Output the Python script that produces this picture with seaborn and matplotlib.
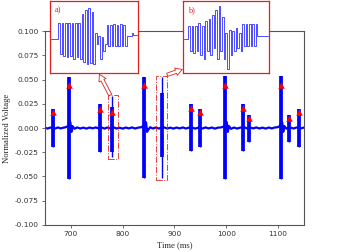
import numpy as np
import pandas as pd
import matplotlib
matplotlib.use("Agg")
import matplotlib.pyplot as plt
from matplotlib.patches import Rectangle
import seaborn as sns

sns.set_style("ticks")
plt.rcParams["font.family"] = ["DejaVu Sans"]
plt.rcParams["axes.unicode_minus"] = True

SERIF = ["Liberation Serif", "DejaVu Serif"]
BLUE = "#0000ff"
RED = "#e02020"
SPINE = "#555555"

# spikes (ms)
spike_t = [666, 696, 757, 779, 842, 876, 931, 950, 998, 1033, 1043, 1105, 1121, 1140]
spike_top = [0.020, 0.053, 0.025, 0.033, 0.053, 0.053, 0.025, 0.020, 0.054, 0.025, 0.013, 0.054, 0.013, 0.020]
spike_bot = [-0.020, -0.053, -0.025, -0.030, -0.052, -0.052, -0.024, -0.020, -0.053, -0.024, -0.014, -0.053, -0.014, -0.020]
core_top = [0.020, 0.053, 0.025, 0.022, 0.053, 0.036, 0.025, 0.020, 0.054, 0.025, 0.013, 0.054, 0.013, 0.020]
core_bot = [-0.020, -0.053, -0.025, -0.025, -0.052, -0.030, -0.024, -0.020, -0.053, -0.024, -0.014, -0.053, -0.014, -0.020]

# detected peaks (red triangles)
peak_t = [666, 696, 757, 779, 842, 931, 950, 998, 1033, 1043, 1105, 1121, 1140]
peak_v = [0.0168, 0.0445, 0.020, 0.0168, 0.0445, 0.021, 0.0168, 0.0445, 0.021, 0.0105, 0.0445, 0.0105, 0.0168]

# baseline between bursts
base_t = [650, 655, 660, 664, 670, 675, 680, 685, 690, 693, 699, 701, 703, 707, 712, 718, 724,
          730, 736, 742, 748, 754, 760, 765, 770, 776, 783, 788, 794, 800, 806, 812, 818, 824,
          830, 836, 839, 845, 847, 849, 853, 858, 864, 870, 874, 880, 886, 892, 898, 904, 910,
          916, 922, 928, 934, 940, 946, 954, 960, 966, 972, 978, 984, 990, 995, 1001, 1003,
          1005, 1009, 1015, 1021, 1027, 1036, 1040, 1046, 1052, 1058, 1064, 1070, 1076, 1082,
          1088, 1094, 1099, 1102, 1108, 1110, 1112, 1116, 1124, 1130, 1136, 1144, 1150]
base_v = [0.0004, -0.0006, 0.0005, 0.0, -0.0005, 0.0006, -0.0004, 0.0003, 0.0008, 0.0015,
          0.006, -0.004, 0.002, -0.0008, 0.0006, -0.0005, 0.0004, -0.0006, 0.0005, -0.0003,
          0.0006, -0.0005, 0.0004, -0.0006, 0.0005, -0.0004, 0.0006, -0.0005, 0.0003, -0.0006,
          0.0005, -0.0004, 0.0006, -0.0005, 0.0004, 0.0008, 0.0018, 0.006, -0.004, -0.002,
          0.0008, -0.0005, 0.0005, -0.0006, 0.0004, 0.0006, -0.0005, 0.0004, -0.0006, 0.0005,
          -0.0004, 0.0006, -0.0005, 0.0004, 0.0005, -0.0006, 0.0004, -0.0005, 0.0006, -0.0004,
          0.0005, -0.0006, 0.0004, 0.0006, 0.0015, 0.006, -0.004, 0.002, -0.0008, 0.0005,
          -0.0006, 0.0004, 0.0006, -0.0005, 0.0005, -0.0004, 0.0006, -0.0005, 0.0004, -0.0006,
          0.0005, -0.0004, 0.0006, 0.0008, 0.0015, 0.006, -0.004, 0.002, -0.0006, 0.0004,
          -0.0005, 0.0006, -0.0004, 0.0005]

# zoomed windows (dash-dot boxes)
box_t0 = [771, 864]
box_t1 = [791, 885]
box_v0 = [-0.032, -0.054]
box_v1 = [0.034, 0.054]

# inset waveforms (relative level, 0 = bottom of inset, 1 = top)
inset_a = [0.47, 0.47, 0.47, 0.47, 0.47, 0.69, 0.26, 0.69, 0.24, 0.69, 0.22, 0.69, 0.24, 0.69,
           0.20, 0.69, 0.22, 0.70, 0.20, 0.82, 0.15, 0.88, 0.12, 0.90, 0.14, 0.85, 0.12, 0.55,
           0.40, 0.52, 0.20, 0.50, 0.30, 0.40, 0.67, 0.38, 0.67, 0.38, 0.68, 0.38, 0.67, 0.38,
           0.68, 0.38, 0.67, 0.38, 0.52, 0.52, 0.52, 0.55, 0.53, 0.53, 0.53]
inset_b = [0.47, 0.47, 0.47, 0.66, 0.30, 0.66, 0.28, 0.66, 0.30, 0.70, 0.25, 0.66, 0.20, 0.72,
           0.30, 0.75, 0.25, 0.80, 0.35, 0.88, 0.20, 0.93, 0.30, 0.78, 0.20, 0.55, 0.06, 0.60,
           0.25, 0.58, 0.30, 0.62, 0.35, 0.55, 0.30, 0.68, 0.38, 0.68, 0.38, 0.68, 0.38, 0.68,
           0.38, 0.68, 0.52, 0.52, 0.52, 0.52, 0.52, 0.52, 0.52]

x_ticks = [700, 800, 900, 1000, 1100]
y_ticks = [-0.100, -0.075, -0.050, -0.025, 0.000, 0.025, 0.050, 0.075, 0.100]

fig = plt.figure(figsize=(3.37, 2.52), dpi=100)
ax = fig.add_axes([0.1335, 0.108, 0.7685, 0.768])

base_df = pd.DataFrame({"t": base_t, "v": base_v})
sns.lineplot(data=base_df, x="t", y="v", ax=ax, color=BLUE, lw=1.6)
ax.vlines(spike_t, spike_bot, spike_top, color=BLUE, lw=1.0, zorder=3)
ax.vlines(spike_t, core_bot, core_top, color=BLUE, lw=2.7, zorder=3)

peak_df = pd.DataFrame({"t": peak_t, "v": peak_v})
sns.scatterplot(data=peak_df, x="t", y="v", ax=ax, marker="^", color="red",
                s=22, linewidth=0, zorder=4)

for t0, t1, v0, v1 in zip(box_t0, box_t1, box_v0, box_v1):
    ax.add_patch(Rectangle((t0, v0), t1 - t0, v1 - v0, fill=False, ec=RED,
                           ls="-.", lw=0.7, alpha=0.85, zorder=5))

arrow_style = "simple,head_length=0.6,head_width=0.7,tail_width=0.3"
ax.annotate("", xy=(755, 0.0555), xytext=(776, 0.034),
            arrowprops=dict(arrowstyle=arrow_style, fc="white", ec=RED, lw=0.6,
                            mutation_scale=8, shrinkA=0, shrinkB=0), zorder=6)
ax.annotate("", xy=(915, 0.0605), xytext=(886, 0.055),
            arrowprops=dict(arrowstyle=arrow_style, fc="white", ec=RED, lw=0.6,
                            mutation_scale=8, shrinkA=0, shrinkB=0), zorder=6)

ax.set_xlim(650, 1150)
ax.set_ylim(-0.1, 0.1)
ax.set_xticks(x_ticks)
ax.set_yticks(y_ticks)
ax.yaxis.set_major_formatter(matplotlib.ticker.FormatStrFormatter("%.3f"))
ax.tick_params(labelsize=5.3, length=2.5, width=0.6, color=SPINE, labelcolor="#333333", pad=2)
for sp in ax.spines.values():
    sp.set_color(SPINE)
    sp.set_linewidth(0.8)
ax.set_xlabel("Time (ms)", family=SERIF, fontsize=6.2, labelpad=3)
ax.set_ylabel("Normalized Voltage", family=SERIF, fontsize=6.2, labelpad=3)

for rect, wave, label in [([0.148, 0.710, 0.262, 0.286], inset_a, "a)"),
                          ([0.544, 0.710, 0.255, 0.286], inset_b, "b)")]:
    iax = fig.add_axes(rect, zorder=10)
    iax.set_facecolor("white")
    wdf = pd.DataFrame({"i": range(len(wave)), "v": wave})
    sns.lineplot(data=wdf, x="i", y="v", ax=iax, color=BLUE, lw=0.7, alpha=0.7,
                 drawstyle="steps-mid")
    iax.set_xlim(-0.5, len(wave) - 0.5)
    iax.set_ylim(0, 1)
    iax.set_xticks([])
    iax.set_yticks([])
    iax.set_xlabel("")
    iax.set_ylabel("")
    for sp in iax.spines.values():
        sp.set_visible(True)
        sp.set_color(RED)
        sp.set_linewidth(0.9)
    iax.text(0.05, 0.93, label, transform=iax.transAxes, color=RED, family=SERIF,
             fontsize=6, va="top", ha="left")

fig.savefig("out.png", dpi=100)
